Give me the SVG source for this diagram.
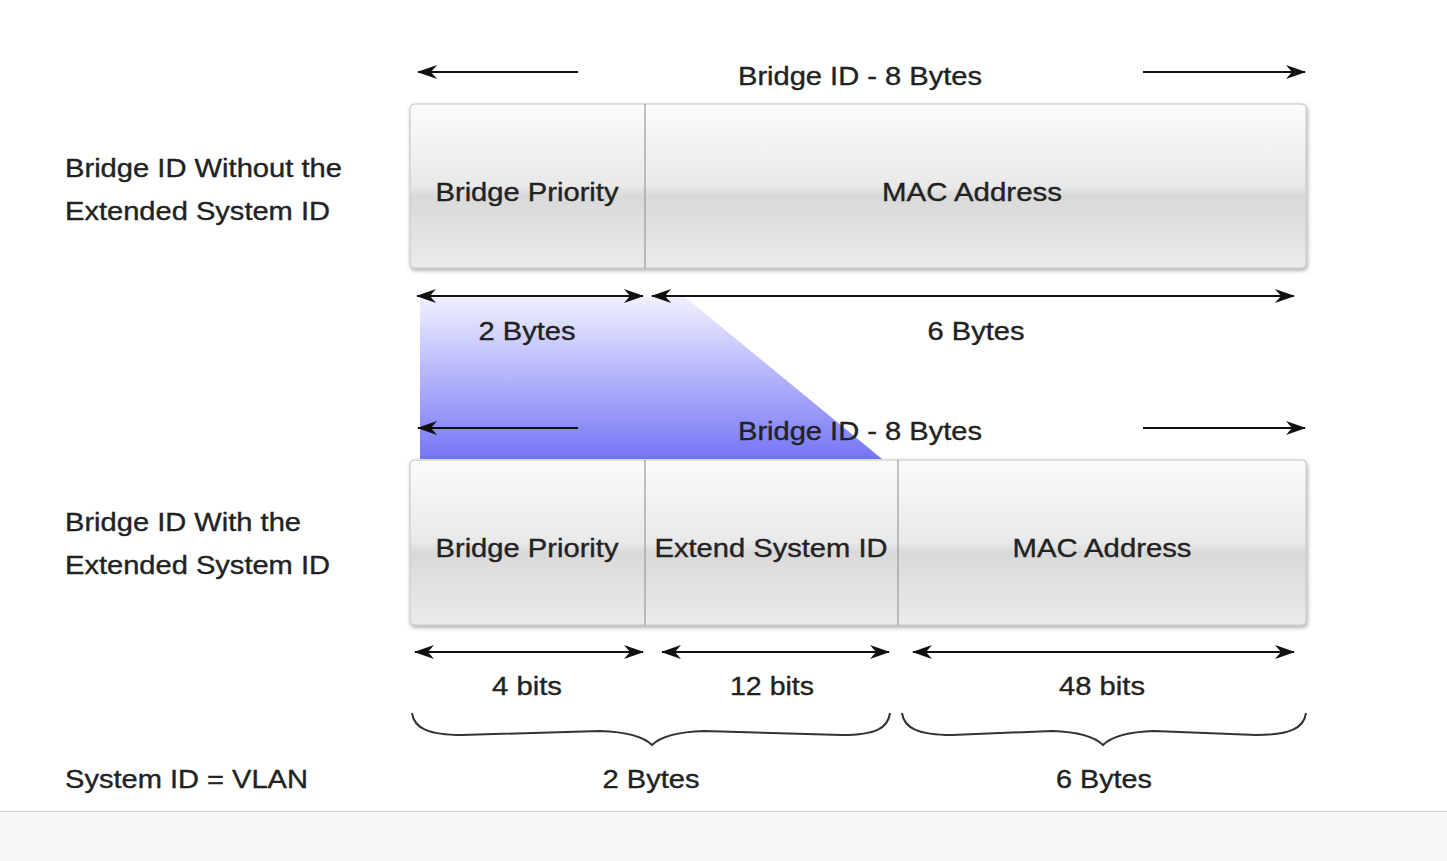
<svg xmlns="http://www.w3.org/2000/svg" width="1447" height="861" viewBox="0 0 1447 861">
<style>
text{font-family:"Liberation Sans",Arial,sans-serif;font-size:25px;fill:#222;stroke:#222;stroke-width:0.35}
.c{text-anchor:middle}
.box{fill:url(#bg);stroke:#c4c4c4;stroke-width:1}
.div{stroke:#9a9a9a;stroke-width:1.2}
.ar{stroke:#111;stroke-width:2;fill:none}
.br{stroke:#333;stroke-width:2;fill:none}
</style>
<defs>
<linearGradient id="bg" x1="0" y1="0" x2="0" y2="1">
<stop offset="0" stop-color="#fbfbfb"/>
<stop offset="0.5" stop-color="#e9e9e9"/>
<stop offset="0.56" stop-color="#d9d9d9"/>
<stop offset="1" stop-color="#ebebeb"/>
</linearGradient>
<linearGradient id="blue" x1="0" y1="0" x2="0" y2="1">
<stop offset="0" stop-color="#f0f0ff"/>
<stop offset="1" stop-color="#7575f6"/>
</linearGradient>
<filter id="sh" x="-5%" y="-10%" width="110%" height="130%">
<feDropShadow dx="1" dy="2" stdDeviation="2" flood-color="#000" flood-opacity="0.35"/>
</filter>
<marker id="ah" viewBox="0 0 20 14" refX="19" refY="7" markerWidth="20" markerHeight="14" markerUnits="userSpaceOnUse" orient="auto-start-reverse">
<path d="M0,0 L20,7 L0,14 L6,7 z" fill="#111"/>
</marker>
</defs>
<rect x="0" y="811" width="1447" height="50" fill="#f7f7f7"/>
<line x1="0" y1="811.5" x2="1447" y2="811.5" stroke="#cfcfcf" stroke-width="1"/>

<g id="highlight">
<polygon points="420,297 685,297 882,459 420,459" fill="url(#blue)"/>
</g>

<g id="labels-left">
<text x="65" y="177" textLength="277" lengthAdjust="spacingAndGlyphs">Bridge ID Without the</text>
<text x="65" y="220" textLength="265" lengthAdjust="spacingAndGlyphs">Extended System ID</text>
<text x="65" y="531" textLength="236" lengthAdjust="spacingAndGlyphs">Bridge ID With the</text>
<text x="65" y="574" textLength="265" lengthAdjust="spacingAndGlyphs">Extended System ID</text>
<text x="65" y="788" textLength="243" lengthAdjust="spacingAndGlyphs">System ID = VLAN</text>
</g>

<g id="box-top">
<rect class="box" x="410" y="104" width="896" height="164" rx="4" filter="url(#sh)"/>
<line class="div" x1="645" y1="104" x2="645" y2="268"/>
<text class="c" x="527" y="201" textLength="183" lengthAdjust="spacingAndGlyphs">Bridge Priority</text>
<text class="c" x="972" y="201" textLength="180" lengthAdjust="spacingAndGlyphs">MAC Address</text>
</g>

<g id="box-bottom">
<rect class="box" x="410" y="460" width="896" height="165" rx="4" filter="url(#sh)"/>
<line class="div" x1="645" y1="460" x2="645" y2="625"/>
<line class="div" x1="898" y1="460" x2="898" y2="625"/>
<text class="c" x="527" y="557" textLength="183" lengthAdjust="spacingAndGlyphs">Bridge Priority</text>
<text class="c" x="771" y="557" textLength="233" lengthAdjust="spacingAndGlyphs">Extend System ID</text>
<text class="c" x="1102" y="557" textLength="179" lengthAdjust="spacingAndGlyphs">MAC Address</text>
</g>

<g id="connectors">
<line class="ar" x1="578" y1="72" x2="418" y2="72" marker-end="url(#ah)"/>
<line class="ar" x1="1143" y1="72" x2="1305" y2="72" marker-end="url(#ah)"/>
<line class="ar" x1="417" y1="296" x2="643" y2="296" marker-start="url(#ah)" marker-end="url(#ah)"/>
<line class="ar" x1="652" y1="296" x2="1294" y2="296" marker-start="url(#ah)" marker-end="url(#ah)"/>
<line class="ar" x1="578" y1="428" x2="418" y2="428" marker-end="url(#ah)"/>
<line class="ar" x1="1143" y1="428" x2="1305" y2="428" marker-end="url(#ah)"/>
<line class="ar" x1="415" y1="652" x2="643" y2="652" marker-start="url(#ah)" marker-end="url(#ah)"/>
<line class="ar" x1="662" y1="652" x2="889" y2="652" marker-start="url(#ah)" marker-end="url(#ah)"/>
<line class="ar" x1="913" y1="652" x2="1294" y2="652" marker-start="url(#ah)" marker-end="url(#ah)"/>
<path class="br" d="M412,713 C414,728 428,735 462,735 L600,731 C630,732 645,738 652,745 C659,738 674,732 704,731 L842,735 C876,735 888,728 890,713"/>
<path class="br" d="M902,713 C904,728 918,735 952,735 L1052,731 C1082,732 1096,738 1103,745 C1110,738 1124,732 1154,731 L1256,735 C1290,735 1304,728 1306,713"/>
</g>

<g id="dimension-labels">
<text class="c" x="860" y="85" textLength="244" lengthAdjust="spacingAndGlyphs">Bridge ID - 8 Bytes</text>
<text class="c" x="527" y="340" textLength="97" lengthAdjust="spacingAndGlyphs">2 Bytes</text>
<text class="c" x="976" y="340" textLength="97" lengthAdjust="spacingAndGlyphs">6 Bytes</text>
<text class="c" x="860" y="440" textLength="244" lengthAdjust="spacingAndGlyphs">Bridge ID - 8 Bytes</text>
<text class="c" x="527" y="695" textLength="70" lengthAdjust="spacingAndGlyphs">4 bits</text>
<text class="c" x="772" y="695" textLength="84" lengthAdjust="spacingAndGlyphs">12 bits</text>
<text class="c" x="1102" y="695" textLength="86" lengthAdjust="spacingAndGlyphs">48 bits</text>
<text class="c" x="651" y="788" textLength="97" lengthAdjust="spacingAndGlyphs">2 Bytes</text>
<text class="c" x="1104" y="788" textLength="96" lengthAdjust="spacingAndGlyphs">6 Bytes</text>
</g>
</svg>
